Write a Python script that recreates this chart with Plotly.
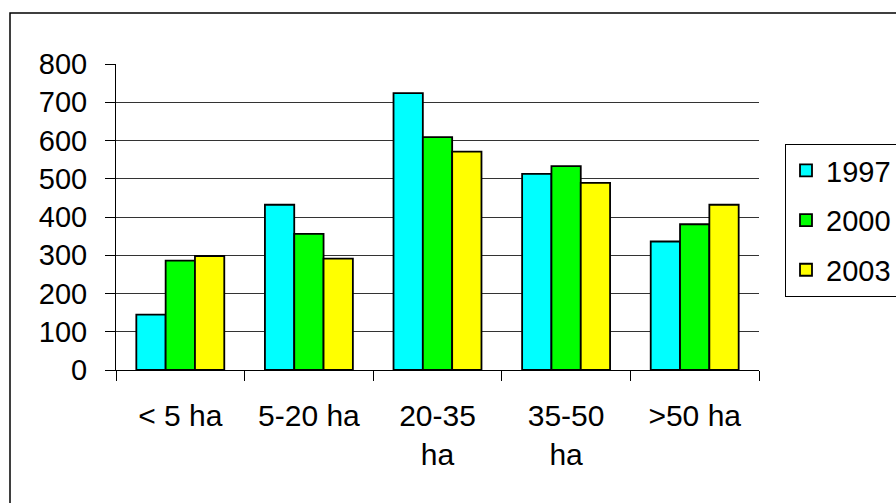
import plotly.graph_objects as go

# Farm size classes and number of holdings per survey year
categories = ["< 5 ha", "5-20 ha", "20-35<br>ha", "35-50<br>ha", ">50 ha"]
years = ["1997", "2000", "2003"]
values_1997 = [145, 432, 724, 513, 336]
values_2000 = [286, 356, 609, 533, 381]
values_2003 = [298, 291, 571, 489, 432]
y_ticks = [0, 100, 200, 300, 400, 500, 600, 700, 800]

series = [values_1997, values_2000, values_2003]
colors = ["#00FFFF", "#00FF00", "#FFFF00"]

FONT = "Arial, 'Liberation Sans', sans-serif"
W, H = 896, 503
L, R, T, B = 116, 137, 64, 133
pw, ph = W - L - R, H - T - B

fig = go.Figure()
for name, vals, col in zip(years, series, colors):
    fig.add_trace(go.Bar(
        name=name, x=categories, y=vals, legendgroup=name,
        marker=dict(color=col, line=dict(color="black", width=1.8)),
    ))

def px_x(p):
    return (p - L) / pw

def px_y(p):
    return (H - B - p) / ph

fig.update_layout(
    width=W, height=H,
    margin=dict(l=L, r=R, t=T, b=B, autoexpand=False),
    paper_bgcolor="white", plot_bgcolor="white",
    font=dict(family=FONT, size=29, color="black"),
    barmode="group", bargap=0.316, bargroupgap=0,
    showlegend=True,
    legend=dict(
        x=px_x(785), y=px_y(144), xanchor="left", yanchor="top",
        bordercolor="black", borderwidth=1, bgcolor="white",
        font=dict(family=FONT, size=29, color="black"),
        traceorder="grouped", tracegroupgap=9,
        itemwidth=30,
    ),
    xaxis=dict(
        showline=True, linecolor="black", linewidth=1,
        ticks="outside", ticklen=10, tickcolor="black", tickwidth=1,
        tickson="boundaries", showgrid=False,
        ticklabelstandoff=19,
        tickfont=dict(family=FONT, size=30, color="black"),
    ),
    yaxis=dict(
        range=[0, 800], tickvals=y_ticks,
        showline=True, linecolor="black", linewidth=1,
        ticks="outside", ticklen=10, tickcolor="black", tickwidth=1,
        showgrid=True, gridcolor="#333333", gridwidth=1,
        zeroline=False,
        ticklabelstandoff=12,
        tickfont=dict(family=FONT, size=29, color="black"),
    ),
    shapes=[dict(
        type="rect", xref="paper", yref="paper",
        x0=px_x(10), x1=px_x(W + 40), y0=px_y(H + 40), y1=px_y(13),
        line=dict(color="black", width=1.5), fillcolor="rgba(0,0,0,0)",
        layer="below",
    )],
)

fig.write_html("out.html")
